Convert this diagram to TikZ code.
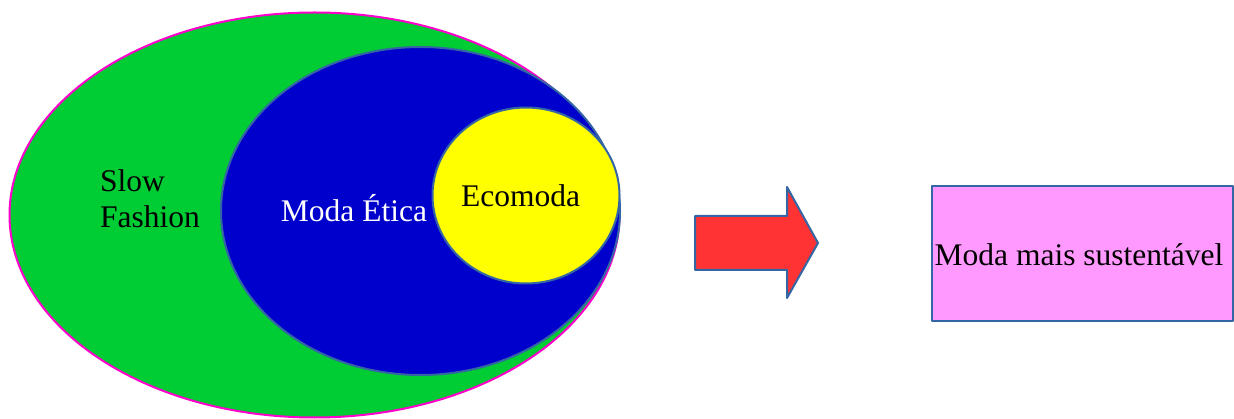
\documentclass[tikz,border=0pt]{standalone}
\usepackage{fontspec}
\setmainfont{Liberation Serif}
\usetikzlibrary{shapes.geometric}
\definecolor{slowgreen}{HTML}{00CC33}
\definecolor{eticablue}{HTML}{0000CC}
\definecolor{ecoyellow}{HTML}{FFFF00}
\definecolor{rim}{HTML}{FF00CC}
\definecolor{edgeblue}{HTML}{3465A4}
\definecolor{arrowred}{HTML}{FF3333}
\definecolor{boxpink}{HTML}{FF99FF}

\begin{document}
\begin{tikzpicture}[x=1pt,y=-1pt,line join=round,
  set/.style={ellipse,draw=edgeblue,line width=2pt,inner sep=0pt},
  lbl/.style={font=\fontsize{31.5}{36}\selectfont,inner sep=0pt}]
\useasboundingbox (0,0) rectangle (1234,419);
% conjuntos
\node[set,draw=rim,fill=slowgreen,minimum width=610pt,minimum height=405pt] (slow) at (314.5,215) {};
\node[set,fill=eticablue,minimum width=399pt,minimum height=328pt] (etica) at (420.5,211) {};
\node[set,fill=ecoyellow,minimum width=187pt,minimum height=176pt] (eco) at (526,195.5) {};
\node[lbl,align=left,anchor=base west] (slowtxt) at (100,228) {Slow\\Fashion};
\node[lbl,text=white,anchor=base] (eticatxt) at (354,222) {Moda Ética};
\node[lbl,anchor=base] (ecotxt) at (520.5,207) {Ecomoda};
% seta
\draw[draw=edgeblue,fill=arrowred,line width=2pt] (695,216) -- (787,216) -- (787,187) -- (818,243)
  -- (787,298) -- (787,270) -- (695,270) -- cycle;
% resultado
\node[draw=edgeblue,fill=boxpink,line width=2pt,minimum width=301pt,minimum height=135pt,inner sep=0pt] (result) at (1082.5,254) {};
\node[lbl,anchor=base] (resulttxt) at (1079,266) {Moda mais sustentável};
\end{tikzpicture}
\end{document}
